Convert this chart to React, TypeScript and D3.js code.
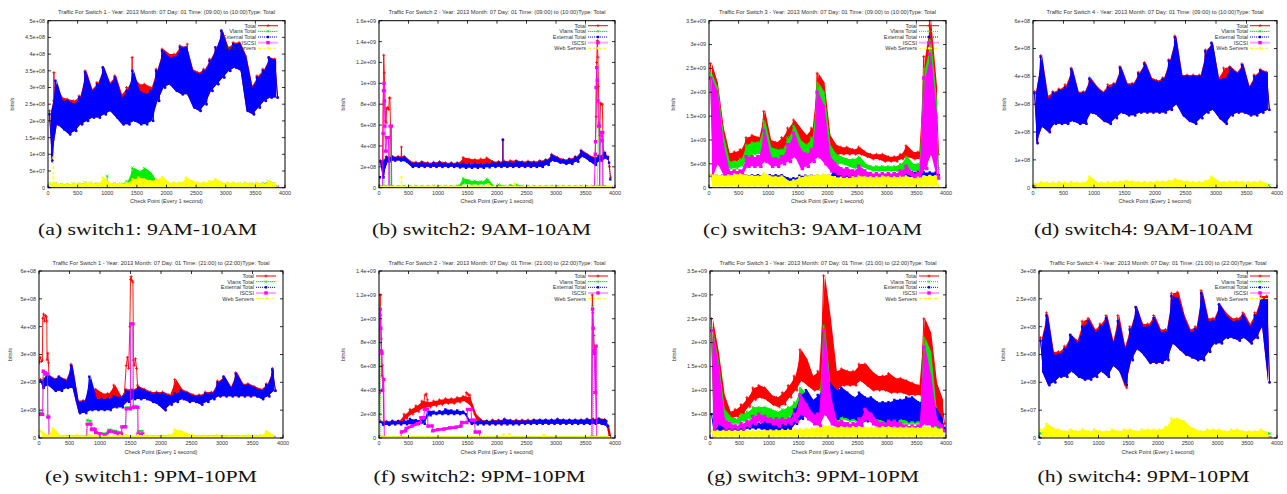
import React from "react";
import * as d3 from "d3";

type Pair = [number, number];
type Pt = [number, number];

// values are in units of 1e8 bits/s, x in seconds (check points)
const X_TICKS = [0, 500, 1000, 1500, 2000, 2500, 3000, 3500, 4000];
const X_MAX = 4000;
const BIN = 100;

const SERIES_NAMES = ["Total", "Vlans Total", "External Total", "ISCSI", "Web Servers"];
const SERIES_COLORS = ["#ff0000", "#00ee00", "#0000ff", "#ff00ff", "#ffff00"];

const AM_TIME = "(09:00) to (10:00)";
const PM_TIME = "(21:00) to (22:00)";

const Y_LABELS_A = ["0", "5e+07", "1e+08", "1.5e+08", "2e+08", "2.5e+08", "3e+08", "3.5e+08", "4e+08", "4.5e+08", "5e+08"];
const Y_LABELS_B = ["0", "2e+08", "4e+08", "6e+08", "8e+08", "1e+09", "1.2e+09", "1.4e+09", "1.6e+09"];
const Y_LABELS_C = ["0", "5e+08", "1e+09", "1.5e+09", "2e+09", "2.5e+09", "3e+09", "3.5e+09"];
const Y_LABELS_D = ["0", "1e+08", "2e+08", "3e+08", "4e+08", "5e+08", "6e+08"];
const Y_LABELS_F = ["0", "2e+08", "4e+08", "6e+08", "8e+08", "1e+09", "1.2e+09", "1.4e+09"];
const Y_LABELS_H = ["0", "5e+07", "1e+08", "1.5e+08", "2e+08", "2.5e+08", "3e+08"];

// ---- (a) switch1 9AM-10AM : [low, high] per 100 s ----
const aTotal: Pair[] = [[0.8,2.3],[1.9,3.0],[1.8,2.7],[1.6,2.65],[1.7,2.6],[1.9,2.75],[2.0,3.5],[2.1,2.95],[2.1,3.15],[2.2,3.6],[2.3,3.15],[2.1,3.35],[1.9,2.8],[1.9,3.0],[2.3,3.3],[2.4,3.1],[2.5,3.1],[2.4,3.0],[2.6,3.55],[3.0,4.15],[3.1,4.0],[2.9,4.0],[2.8,4.25],[2.8,4.2],[2.4,3.55],[2.3,3.45],[2.5,3.55],[2.9,3.85],[3.1,4.2],[3.3,4.7],[3.5,4.2],[3.6,4.35],[3.5,4.35],[2.3,3.95],[2.2,3.05],[2.4,3.35],[2.6,3.55],[2.7,3.9],[2.7,3.85]];
const aTotalSpikes: Pt[][] = [
  [[95,2.6],[100,3.45],[105,2.6]],
  [[1415,3.0],[1420,3.9],[1425,3.0]],
  [[2345,3.6],[2350,4.3],[2355,3.6]],
];
const aVlans: Pair[] = [[0.03,0.12],[0.03,0.12],[0.03,0.1],[0.03,0.1],[0.03,0.12],[0.03,0.12],[0.03,0.15],[0.03,0.14],[0.03,0.12],[0.03,0.14],[0.03,0.14],[0.03,0.12],[0.03,0.12],[0.05,0.2],[0.2,0.6],[0.2,0.5],[0.2,0.58],[0.15,0.45],[0.03,0.14],[0.03,0.14],[0.03,0.12],[0.03,0.12],[0.03,0.12],[0.03,0.14],[0.03,0.12],[0.03,0.12],[0.03,0.12],[0.03,0.12],[0.03,0.14],[0.03,0.12],[0.03,0.12],[0.03,0.12],[0.03,0.12],[0.03,0.12],[0.03,0.12],[0.03,0.12],[0.03,0.14],[0.05,0.2],[0.03,0.12]];
const aVlansSpike: Pt[] = [[990,0.1],[1000,0.35],[1010,0.1]];
const aExt: Pair[] = [[0.8,2.2],[1.9,3.2],[1.75,2.6],[1.6,2.6],[1.7,2.5],[1.9,2.7],[2.0,3.45],[2.1,2.9],[2.1,3.1],[2.2,3.6],[2.3,3.1],[2.1,3.3],[1.9,2.7],[1.9,2.9],[2.0,3.5],[1.9,2.9],[1.9,2.8],[2.0,2.9],[2.6,3.5],[3.0,4.1],[3.1,3.9],[2.9,3.9],[2.8,4.2],[2.8,4.2],[2.4,3.5],[2.3,3.4],[2.5,3.5],[2.9,3.8],[3.1,4.2],[3.3,4.7],[3.5,4.1],[3.6,4.3],[3.5,4.3],[2.3,3.9],[2.2,3.0],[2.4,3.3],[2.6,3.5],[2.7,3.9],[2.7,3.8]];
const aWeb: Pair[] = [[0,0.12],[0,0.12],[0,0.1],[0,0.1],[0,0.12],[0,0.12],[0,0.15],[0,0.15],[0,0.12],[0,0.3],[0,0.15],[0,0.12],[0,0.12],[0,0.15],[0,0.25],[0,0.3],[0,0.25],[0,0.2],[0,0.25],[0,0.32],[0,0.15],[0,0.15],[0,0.15],[0,0.3],[0,0.2],[0,0.15],[0,0.15],[0,0.2],[0,0.25],[0,0.15],[0,0.15],[0,0.15],[0,0.12],[0,0.15],[0,0.12],[0,0.15],[0,0.12],[0,0.2],[0,0.12]];
const aWebSpike: Pt[] = [[80,0.1],[90,0.9],[100,0.1]];
const aIscsi: Pt[] = [[0,0],[3870,0]];

// ---- (b) switch2 9AM-10AM ----
const bTotal: Pair[] = [[1.0,2.6],[2.5,3.0],[2.6,3.0],[2.6,3.0],[2.5,3.0],[2.0,2.5],[2.0,2.45],[2.0,2.5],[2.0,2.4],[2.0,2.45],[2.0,2.5],[2.0,2.4],[2.0,2.4],[1.95,2.4],[2.3,2.9],[2.3,2.75],[2.3,2.7],[2.3,2.75],[2.3,2.85],[2.0,2.5],[2.0,2.5],[2.0,2.55],[2.0,2.6],[2.0,2.6],[2.0,2.5],[2.0,2.55],[2.0,2.5],[2.0,2.6],[2.2,2.7],[2.6,3.2],[2.4,2.9],[2.3,2.7],[2.3,2.8],[2.5,3.0],[3.0,3.6],[2.6,3.2],[2.2,2.9],[2.6,3.1],[2.8,3.4]];
const bTotalSpikes: Pt[][] = [
  [[40,2.2],[60,2.6],[70,8.0],[80,12.7],[90,11.0],[100,9.3],[110,6.4],[120,6.2],[130,7.6],[150,7.7],[165,7.5],[175,8.6],[185,8.6],[195,5.9],[205,2.8]],
  [[375,2.9],[380,3.9],[385,2.9]],
  [[2095,2.4],[2100,4.6],[2105,2.4]],
  [[3660,2.5],[3680,6.8],[3690,12.0],[3700,14.1],[3710,12.5],[3720,9.7],[3730,6.2],[3740,5.0],[3755,8.1],[3770,8.0],[3785,8.0],[3795,5.3],[3810,2.8]],
  [[3880,3.0],[3905,2.0],[3925,1.0]],
];
const bVlans: Pair[] = [[0.05,0.15],[0.05,0.15],[0.05,0.15],[0.05,0.15],[0.05,0.15],[0.05,0.15],[0.05,0.15],[0.05,0.15],[0.05,0.15],[0.05,0.15],[0.05,0.15],[0.05,0.15],[0.05,0.15],[0.05,0.2],[0.4,0.9],[0.3,0.7],[0.3,0.65],[0.3,0.6],[0.4,0.85],[0.05,0.15],[0.05,0.3],[0.05,0.15],[0.05,0.25],[0.05,0.3],[0.05,0.15],[0.05,0.15],[0.05,0.15],[0.05,0.15],[0.05,0.15],[0.05,0.15],[0.05,0.15],[0.05,0.15],[0.05,0.15],[0.05,0.15],[0.05,0.15],[0.05,0.15],[0.05,0.15],[0.05,0.15],[0.05,0.15]];
const bVlansSpikes: Pt[][] = [
  [[70,0.1],[80,5.0],[90,0.1]],
  [[195,0.1],[205,5.8],[215,0.1]],
  [[3700,0.1],[3720,6.2],[3740,0.1]],
  [[3780,0.1],[3790,5.0],[3800,0.1]],
];
const bExt: Pair[] = [[1.0,2.5],[2.5,2.9],[2.6,2.95],[2.6,2.9],[2.5,2.9],[2.0,2.4],[2.0,2.35],[2.0,2.4],[2.0,2.3],[2.0,2.35],[2.0,2.4],[2.0,2.3],[2.0,2.3],[1.95,2.3],[1.9,2.3],[1.9,2.25],[1.9,2.3],[1.9,2.25],[1.95,2.3],[2.0,2.4],[2.0,2.4],[2.0,2.45],[2.0,2.4],[2.0,2.5],[2.0,2.4],[2.0,2.45],[2.0,2.4],[2.0,2.5],[2.2,2.6],[2.6,3.1],[2.4,2.8],[2.3,2.6],[2.3,2.7],[2.5,2.9],[3.0,3.5],[2.6,3.1],[2.2,2.8],[2.6,3.0],[2.8,3.3]];
const bExtSpikes: Pt[][] = [
  [[0,0.2],[15,1.0]],
  [[2095,2.3],[2100,4.6],[2105,2.3]],
  [[3880,2.9],[3900,2.4],[3920,0.8]],
];
const bIscsi: Pt[] = [[0,0],[60,0],[70,5.2],[78,9.3],[85,10.0],[92,8.3],[100,5.9],[110,3.5],[120,3.5],[130,4.8],[160,4.8],[170,0],[190,5.9],[210,5.9],[215,0],[3650,0],[3665,3.2],[3670,4.4],[3680,9.6],[3690,11.5],[3700,10.3],[3710,8.3],[3720,5.9],[3735,5.9],[3740,0],[3755,5.3],[3770,5.3],[3780,4.5],[3790,5.3],[3795,0],[3930,0]];
const bWeb: Pt[] = [[0,0.1],[370,0.1],[380,1.0],[390,0.1],[1840,0.1],[1850,0.35],[1860,0.1],[2290,0.1],[2300,0.4],[2310,0.1],[3930,0.1]];

// ---- (c) switch3 9AM-10AM ----
const cTotal: Pair[] = [[5,26],[8,22],[6,12.5],[5.5,7.2],[5.5,7.5],[6,8],[7.5,10.5],[8,11],[8,10.5],[9,16],[8,10],[7.5,9.5],[7.5,10.5],[9,12.5],[11,14.2],[8,12.5],[8.5,11],[9,12.5],[10,24],[9,22],[8,11],[7,9],[7,8.5],[7,8.5],[7,8],[7,8.5],[6.5,7.5],[6,7],[6,7],[5.5,7],[5.5,6.5],[5.5,6.5],[6,7],[6.5,8.8],[6,7.5],[6,7.5],[7,27.5],[10,35],[7,21]];
const cVlans: Pair[] = [[2,24],[6,21],[4,11],[4,5.5],[4,5.5],[4.5,6],[6,9],[7,9.5],[7,9.5],[7.5,14],[6,8.5],[6,8],[6,8],[7,10.5],[9,13],[6,10],[6.5,9],[7,10.5],[8,22],[7,20],[6,9],[5,7],[5,6.5],[4.5,6],[4,6],[4.5,6.5],[4,5],[3.5,4.5],[3.5,4.5],[3.5,4.5],[3.5,4.5],[3.5,4.5],[3.5,5],[4,6.5],[3.5,5],[3.5,5],[5,25],[8,31],[4,18]];
const cExt: Pair[] = [[1.5,2.5],[1.5,2.5],[1.5,2.5],[1.5,2.5],[1.5,2.5],[1.6,2.6],[1.6,2.6],[1.6,2.6],[1.6,2.6],[1.6,2.6],[1.6,2.6],[1.6,2.6],[1.6,2.6],[1.2,2.0],[1.2,2.0],[1.5,2.5],[1.5,2.5],[1.5,2.5],[1.5,2.5],[1.5,2.5],[1.5,2.5],[1.8,4.5],[2.0,2.8],[2.0,2.8],[2.0,2.8],[2.0,2.8],[2.0,2.8],[2.0,2.8],[2.0,2.8],[2.0,2.8],[2.0,2.8],[2.0,2.8],[2.0,2.8],[2.0,2.8],[2.4,3.3],[2.4,3.3],[2.6,3.2],[2.6,3.2],[2.6,3.2]];
const cIscsi: Pair[] = [[2,23],[5,20],[2.5,9],[2.5,3.5],[2.5,3.5],[2.5,3.5],[4.5,6.5],[4.5,6.5],[4.5,6.5],[5.5,12],[4.5,6.5],[4.5,6],[5,6.5],[5.5,9],[6.5,11.5],[4,8],[4.5,7],[5.5,8],[6.5,20],[5,17],[3.5,6.5],[3,5],[2.5,4],[2.5,4],[2.5,3.5],[2.5,4.5],[2.5,3.5],[2,3],[2,3],[2,3],[2,3],[2,3],[2.5,3.5],[3,4.5],[2,3],[2,3],[4,23],[7,28],[2,15]];
const cWeb: Pair[] = [[0.3,2.8],[0.3,2.6],[0.3,2.5],[0.3,2.6],[0.3,2.8],[0.3,2.8],[0.3,2.6],[0.3,2.5],[0.3,2.4],[0.3,3.0],[0.3,2.4],[0.3,2.3],[0.3,2.4],[0.3,1.4],[0.3,1.6],[0.3,2.2],[0.3,2.4],[0.3,2.5],[0.3,2.6],[0.3,2.8],[0.3,2.6],[0.3,2.2],[0.3,2.1],[0.3,2.0],[0.3,2.2],[0.3,2.4],[0.3,2.3],[0.3,2.2],[0.3,2.2],[0.3,2.4],[0.3,2.2],[0.3,2.2],[0.3,2.3],[0.3,2.4],[0.3,2.0],[0.3,2.1],[0.3,2.4],[0.3,2.5],[0.3,2.3]];

// ---- (d) switch4 9AM-10AM ----
const dTotal: Pair[] = [[1.6,3.45],[2.2,4.75],[2.0,3.3],[2.3,3.45],[2.3,3.55],[2.3,3.7],[2.4,4.3],[2.3,3.45],[2.3,3.45],[2.7,3.95],[2.6,3.65],[2.4,3.45],[2.3,3.7],[2.5,3.75],[2.7,4.35],[2.6,3.75],[2.6,3.75],[2.7,4.15],[2.7,4.5],[2.7,3.95],[2.7,3.85],[2.7,3.95],[2.8,4.6],[3.0,5.45],[2.6,4.05],[2.4,4.05],[2.3,4.05],[2.5,4.05],[2.7,4.95],[2.8,5.2],[2.5,3.95],[2.3,4.3],[2.6,4.35],[2.7,4.15],[2.7,4.45],[2.6,3.65],[2.6,4.05],[2.7,4.25],[2.8,4.15]];
const dVlans: Pt[] = [[0,0.08],[3870,0.08]];
const dExt: Pair[] = [[1.6,3.4],[2.2,4.7],[2.0,3.2],[2.3,3.4],[2.3,3.5],[2.3,3.6],[2.4,4.25],[2.3,3.4],[2.3,3.4],[2.7,3.9],[2.6,3.6],[2.4,3.4],[2.3,3.6],[2.5,3.7],[2.7,4.3],[2.6,3.7],[2.6,3.7],[2.7,4.1],[2.7,4.45],[2.7,3.9],[2.7,3.8],[2.7,3.9],[2.8,4.55],[3.0,5.4],[2.6,4.0],[2.4,4.0],[2.3,4.0],[2.5,4.0],[2.7,4.9],[2.8,5.2],[2.5,3.9],[2.3,3.9],[2.6,4.3],[2.7,4.1],[2.7,4.4],[2.6,3.6],[2.6,4.0],[2.7,4.2],[2.8,4.1]];
const dIscsi: Pt[] = [[0,0],[3870,0]];
const dWeb: Pair[] = [[0,0.15],[0,0.2],[0,0.18],[0,0.18],[0,0.2],[0,0.18],[0,0.2],[0,0.18],[0,0.18],[0,0.4],[0,0.2],[0,0.18],[0,0.2],[0,0.2],[0,0.22],[0,0.25],[0,0.22],[0,0.2],[0,0.2],[0,0.2],[0,0.22],[0,0.22],[0,0.25],[0,0.3],[0,0.25],[0,0.22],[0,0.2],[0,0.2],[0,0.25],[0,0.4],[0,0.22],[0,0.2],[0,0.22],[0,0.22],[0,0.2],[0,0.2],[0,0.2],[0,0.22],[0,0.15]];

// ---- (e) switch1 9PM-10PM ----
const eTotal: Pair[] = [[1.8,2.1],[1.9,2.3],[1.7,2.15],[1.7,2.2],[1.8,2.1],[1.8,2.65],[0.9,1.35],[0.95,1.35],[1.1,1.8],[1.4,1.75],[1.2,1.6],[1.3,1.6],[1.3,1.9],[1.2,1.5],[1.4,1.75],[1.4,1.75],[1.4,1.85],[1.4,1.75],[1.3,1.65],[1.2,1.65],[1.0,1.65],[1.2,1.55],[1.3,2.1],[1.4,1.75],[1.3,1.65],[1.3,1.55],[1.2,1.55],[1.3,1.65],[1.4,1.65],[1.5,2.05],[1.5,2.2],[1.5,1.85],[1.5,2.35],[1.5,1.95],[1.5,1.95],[1.5,1.85],[1.4,1.75],[1.5,1.95],[1.7,2.5]];
const eTotalSpikes: Pt[][] = [
  [[0,2.7],[20,2.9],[40,2.75],[55,2.8],[62,4.3],[75,4.45],[90,4.2],[105,4.4],[120,4.35],[128,4.2],[132,2.8],[145,3.05],[155,2.7],[165,2.0]],
  [[1400,1.6],[1430,2.6],[1450,2.9],[1470,2.5],[1490,4.0],[1500,5.7],[1510,5.8],[1525,5.65],[1540,5.6],[1548,2.8],[1560,2.6],[1580,2.85],[1600,2.5],[1615,1.9]],
];
const eVlans: Pt[] = [[0,0.9],[55,0.9],[60,1.0],[68,2.4],[140,2.3],[145,0.8],[160,0.8],[165,0.05],[780,0.05],[790,0.65],[850,0.6],[860,0.35],[920,0.35],[930,0.2],[1100,0.15],[1150,0.3],[1250,0.25],[1350,0.2],[1360,0.4],[1420,0.4],[1430,1.1],[1500,1.1],[1505,4.1],[1540,4.1],[1545,1.15],[1610,1.15],[1620,0.25],[1700,0.25],[1710,0.05],[3850,0.05]];
const eExt: Pair[] = [[1.8,2.05],[1.9,2.3],[1.7,2.1],[1.7,2.2],[1.8,2.05],[1.8,2.6],[0.9,1.3],[0.9,1.3],[1.0,2.2],[1.0,1.4],[1.0,1.4],[1.0,1.4],[1.1,1.5],[1.1,1.45],[1.3,1.7],[1.4,1.7],[1.4,1.8],[1.4,1.7],[1.3,1.6],[1.2,1.6],[1.0,1.6],[1.2,1.5],[1.3,1.6],[1.4,1.7],[1.3,1.6],[1.3,1.5],[1.2,1.5],[1.3,1.6],[1.4,1.6],[1.5,2.0],[1.5,2.2],[1.5,1.8],[1.5,2.3],[1.5,1.9],[1.5,1.9],[1.5,1.8],[1.4,1.7],[1.5,1.9],[1.7,2.45]];
const eIscsi: Pt[] = [[0,0.85],[60,0.85],[70,2.4],[100,2.35],[110,2.3],[140,2.3],[145,0.75],[160,0.75],[165,0],[780,0],[790,0.5],[850,0.5],[860,0.3],[920,0.3],[930,0.2],[1000,0.15],[1100,0.1],[1150,0.25],[1250,0.2],[1300,0.15],[1350,0.15],[1360,0.4],[1420,0.4],[1430,1.05],[1500,1.05],[1505,4.1],[1540,4.1],[1545,1.1],[1620,1.1],[1625,0.15],[1700,0.15],[1710,0],[3850,0]];
const eWeb: Pair[] = [[0,0.25],[0,0.1],[0,0.35],[0,0.1],[0,0.08],[0,0.08],[0,0.1],[0,0.08],[0,0.1],[0,0.1],[0,0.08],[0,0.08],[0,0.08],[0,0.1],[0,0.1],[0,0.08],[0,0.1],[0,0.1],[0,0.08],[0,0.08],[0,0.08],[0,0.1],[0,0.3],[0,0.25],[0,0.15],[0,0.1],[0,0.08],[0,0.08],[0,0.08],[0,0.1],[0,0.08],[0,0.08],[0,0.08],[0,0.08],[0,0.1],[0,0.08],[0,0.1],[0,0.25],[0,0.1]];

// ---- (f) switch2 9PM-10PM ----
const fTotal: Pair[] = [[1.1,1.4],[1.1,1.4],[1.15,1.45],[1.15,1.45],[1.6,2.0],[2.0,2.4],[2.2,2.7],[2.5,3.1],[2.6,3.0],[2.7,3.1],[2.8,3.2],[2.9,3.3],[2.9,3.3],[3.0,3.4],[3.1,3.5],[2.7,3.4],[1.5,2.0],[1.15,1.5],[1.15,1.45],[1.15,1.5],[1.15,1.5],[1.15,1.6],[1.15,1.5],[1.15,1.5],[1.2,1.5],[1.2,1.5],[1.2,1.55],[1.2,1.55],[1.2,1.55],[1.2,1.55],[1.2,1.6],[1.2,1.55],[1.2,1.55],[1.2,1.55],[1.2,1.55],[1.2,1.6],[1.2,1.6],[1.2,1.65],[1.0,1.55]];
const fTotalSpikes: Pt[][] = [
  [[0,1.3],[10,10.4],[20,12.0],[30,10.3],[40,8.3],[50,5.2],[60,6.1],[70,5.0],[80,1.4]],
  [[760,3.0],[780,3.6],[800,3.7],[820,3.2]],
  [[1470,3.4],[1480,3.8],[1500,3.7],[1520,3.6],[1540,3.6],[1560,2.8]],
  [[3600,1.4],[3615,12.0],[3625,10.5],[3640,8.6],[3655,7.0],[3665,7.7],[3680,1.5]],
  [[3850,1.4],[3880,1.0],[3915,0.1]],
];
const fVlans: Pt[][] = [
  [[0,0.06],[3900,0.06]],
  [[0,0.1],[15,11.0],[30,0.1]],
  [[3605,0.1],[3620,11.0],[3640,0.1]],
];
const fExt: Pair[] = [[1.1,1.35],[1.1,1.35],[1.15,1.4],[1.15,1.4],[1.15,1.45],[1.15,1.6],[1.2,1.5],[1.2,1.5],[1.9,2.3],[2.0,2.2],[2.0,2.25],[2.0,2.4],[2.0,2.3],[2.0,2.3],[2.0,2.2],[1.2,1.45],[1.15,1.45],[1.15,1.45],[1.15,1.4],[1.15,1.45],[1.15,1.45],[1.15,1.55],[1.15,1.45],[1.15,1.45],[1.2,1.45],[1.2,1.45],[1.2,1.5],[1.2,1.5],[1.2,1.5],[1.2,1.5],[1.2,1.55],[1.2,1.5],[1.2,1.5],[1.2,1.5],[1.2,1.5],[1.2,1.55],[1.2,1.55],[1.2,1.6],[1.0,1.5]];
const fExtDrop: Pt[] = [[3850,1.4],[3880,1.0],[3910,0.1]];
const fIscsi: Pt[] = [[0,3.8],[20,10.8],[30,9.2],[40,7.3],[50,7.1],[60,4.0],[80,4.9],[90,0],[370,0],[380,0.5],[450,0.6],[460,0.8],[560,1.0],[650,1.2],[700,1.3],[710,1.7],[760,1.7],[770,2.4],[820,2.4],[830,1.0],[900,1.0],[910,0.6],[1000,0.7],[1100,0.75],[1200,0.85],[1300,0.9],[1390,1.0],[1400,1.3],[1490,1.3],[1500,2.4],[1560,2.4],[1570,1.5],[1620,1.5],[1630,0.5],[1700,0.5],[1710,0],[3610,0],[3620,10.8],[3630,9.2],[3640,7.3],[3650,7.1],[3660,3.8],[3670,3.8],[3680,7.7],[3690,0],[3900,0]];
const fWeb: Pt[] = [[0,0.08],[2100,0.08],[2110,0.3],[2120,0.08],[2200,0.08],[2210,0.35],[2220,0.08],[2780,0.08],[2790,0.25],[2800,0.08],[3900,0.08]];

// ---- (g) switch3 9PM-10PM ----
const gTotal: Pair[] = [[3,25],[8,18],[5,9],[4,5.5],[4.5,6],[5,7],[6.5,8.5],[8,10.5],[8.5,11],[8,10.5],[7,9],[6.5,8.5],[7,9.5],[8.5,11],[10,13],[12,18.5],[11,16.5],[10,13],[10,14],[13,34],[10,25],[10,14],[11,14.5],[11,14],[11,14],[12,15.5],[11,15.5],[10,14],[10,13],[10,13],[9.5,13.5],[9.5,12.5],[9.5,12.5],[9,12],[9,11.5],[9,11],[9,25],[8,22],[6,11.5],[3,8]];
const gVlans: Pair[] = [[1,23],[4,16],[3.5,6],[3,4.5],[3,4],[3.5,5],[4,5.5],[4.5,6.5],[5,6.5],[4.5,6.5],[4,6],[4,5.5],[4,6],[4.5,6.5],[5,7.5],[6,10.5],[5.5,9],[4.5,7],[4.5,7.5],[7,23.5],[4.5,10],[3.5,6],[4,6],[3.5,5.5],[3.5,5],[4,6.5],[4,6],[3.5,5],[3,4.5],[3,4.5],[3,4.5],[3,4.5],[3,5],[3,4.5],[3,4.5],[3,4.5],[3.5,21],[3,18],[2,5],[1.5,3]];
const gExt: Pair[] = [[1,5],[1.5,4],[1.5,3],[1.5,2.5],[1.5,2.5],[1.5,2.5],[2,3],[2,3],[2,3],[1.5,3.5],[1.5,3.5],[1.5,4],[1.5,4],[1.5,4],[3,6],[4,9],[5,10],[4,8],[4,9],[5,11],[5,11.5],[4,10],[4.5,10.5],[4,9.5],[4,8.5],[3,9.5],[3.5,8.5],[3.5,8.5],[4,7.5],[3.5,7.5],[3,7.5],[3.5,8],[4,8],[3.5,8.5],[3.5,8.5],[3.5,7.5],[4,8],[4,7.5],[3,6],[2,4]];
const gIscsi: Pair[] = [[0.5,22.5],[3,15],[2,4],[2,3],[2,2.5],[2,3],[2.5,3.5],[3,4.5],[3.5,5],[3.5,4.5],[3,4],[2.5,4],[3,4],[3,4],[3.5,5],[5,9],[4,7],[3,5],[2.5,5],[5,22.5],[3,9],[2,3.5],[2,3.5],[2,3],[2,3],[2.5,4],[4,6],[3,5],[2,3.5],[2,3],[2,3.5],[2,3.5],[2,3],[1.5,2.5],[1.5,2.5],[2,2.5],[3,19],[2.5,13],[2.5,4],[1.5,2.5]];
const gWeb: Pair[] = [[0.3,1.5],[0.3,1.5],[0.3,1.5],[0.3,1.5],[0.3,1.5],[0.3,1.5],[0.3,1.5],[0.3,1.5],[0.3,1.5],[0.3,1.6],[0.3,1.6],[0.3,1.6],[0.3,1.7],[0.3,1.7],[0.3,1.8],[0.3,1.8],[0.3,1.9],[0.3,2.0],[0.3,2.2],[0.3,2.5],[0.3,2.4],[0.3,2.2],[0.3,2.3],[0.3,2.2],[0.3,2.3],[0.3,2.3],[0.3,2.2],[0.3,2.2],[0.3,2.2],[0.3,2.3],[0.3,2.3],[0.3,2.2],[0.3,2.2],[0.3,2.2],[0.3,2.2],[0.3,2.1],[0.3,2.4],[0.3,2.2],[0.3,2.0],[0.3,1.8]];

// ---- (h) switch4 9PM-10PM ----
const hTotal: Pair[] = [[1.2,1.8],[0.95,2.25],[1.0,1.55],[1.1,1.55],[1.1,1.65],[1.2,1.85],[1.1,1.75],[1.05,2.1],[1.05,2.15],[1.1,1.95],[1.2,2.05],[1.1,2.2],[1.3,1.75],[1.2,2.2],[0.9,1.65],[1.4,2.0],[1.6,2.35],[1.5,2.05],[1.35,2.05],[1.35,2.2],[1.35,1.95],[1.4,1.95],[1.7,2.6],[1.6,2.62],[1.5,2.2],[1.45,1.95],[1.4,2.0],[1.4,2.65],[1.55,2.15],[1.7,2.15],[1.7,2.4],[1.8,2.25],[1.8,2.15],[1.75,2.15],[1.8,2.25],[1.7,2.05],[1.8,2.25],[2.0,2.55],[1.0,2.55]];
const hVlans: Pt[] = [[0,0.08],[3880,0.08]];
const hExt: Pair[] = [[1.2,1.75],[0.95,2.2],[1.0,1.5],[1.1,1.5],[1.1,1.6],[1.2,1.85],[1.1,1.7],[1.05,2.0],[1.05,2.1],[1.1,1.9],[1.2,2.0],[1.1,2.15],[1.3,1.7],[1.2,2.1],[0.95,1.6],[1.4,1.95],[1.6,2.35],[1.5,2.0],[1.35,2.0],[1.35,2.15],[1.35,1.9],[1.4,1.9],[1.7,2.55],[1.6,2.5],[1.5,2.15],[1.45,1.9],[1.4,1.95],[1.4,2.6],[1.55,2.1],[1.7,2.1],[1.7,2.4],[1.8,2.2],[1.8,2.1],[1.75,2.1],[1.8,2.2],[1.7,2.0],[1.8,2.2],[2.0,2.5],[1.0,2.5]];
const hIscsi: Pt[] = [[0,0],[3880,0]];
const hWeb: Pair[] = [[0,0.15],[0,0.25],[0,0.18],[0,0.15],[0,0.12],[0,0.15],[0,0.12],[0,0.15],[0,0.12],[0,0.15],[0,0.12],[0,0.12],[0,0.15],[0,0.12],[0,0.15],[0,0.15],[0,0.12],[0,0.15],[0,0.15],[0,0.15],[0,0.15],[0,0.2],[0,0.35],[0,0.35],[0,0.3],[0,0.2],[0,0.15],[0,0.12],[0,0.15],[0,0.15],[0,0.15],[0,0.12],[0,0.15],[0,0.15],[0,0.12],[0,0.12],[0,0.12],[0,0.15],[0,0.1]];

interface PanelData {
  sw: number;
  time: string;
  caption: string;
  yMax: number;
  yLabels: string[];
  bands: (Pair[] | null)[];
  traces: Pt[][][];
}

const PANELS: PanelData[] = [
  { sw: 1, time: AM_TIME, caption: "(a) switch1: 9AM-10AM", yMax: 5, yLabels: Y_LABELS_A,
    bands: [aTotal, aVlans, aExt, null, aWeb], traces: [aTotalSpikes, [aVlansSpike], [], [aIscsi], [aWebSpike]] },
  { sw: 2, time: AM_TIME, caption: "(b) switch2: 9AM-10AM", yMax: 16, yLabels: Y_LABELS_B,
    bands: [bTotal, bVlans, bExt, null, null], traces: [bTotalSpikes, bVlansSpikes, bExtSpikes, [bIscsi], [bWeb]] },
  { sw: 3, time: AM_TIME, caption: "(c) switch3: 9AM-10AM", yMax: 35, yLabels: Y_LABELS_C,
    bands: [cTotal, cVlans, cExt, cIscsi, cWeb], traces: [[], [], [], [], []] },
  { sw: 4, time: AM_TIME, caption: "(d) switch4: 9AM-10AM", yMax: 6, yLabels: Y_LABELS_D,
    bands: [dTotal, null, dExt, null, dWeb], traces: [[], [dVlans], [], [dIscsi], []] },
  { sw: 1, time: PM_TIME, caption: "(e) switch1: 9PM-10PM", yMax: 6, yLabels: Y_LABELS_D,
    bands: [eTotal, null, eExt, null, eWeb], traces: [eTotalSpikes, [eVlans], [], [eIscsi], []] },
  { sw: 2, time: PM_TIME, caption: "(f) switch2: 9PM-10PM", yMax: 14, yLabels: Y_LABELS_F,
    bands: [fTotal, null, fExt, null, null], traces: [fTotalSpikes, fVlans, [fExtDrop], [fIscsi], [fWeb]] },
  { sw: 3, time: PM_TIME, caption: "(g) switch3: 9PM-10PM", yMax: 35, yLabels: Y_LABELS_C,
    bands: [gTotal, gVlans, gExt, gIscsi, gWeb], traces: [[], [], [], [], []] },
  { sw: 4, time: PM_TIME, caption: "(h) switch4: 9PM-10PM", yMax: 3, yLabels: Y_LABELS_H,
    bands: [hTotal, null, hExt, null, hWeb], traces: [[], [hVlans], [], [hIscsi], []] },
];

// plot boxes in page pixels
const BOXES = [
  { l: 48, r: 285, t: 20.7, b: 187.7, cx: 147.5, capY: 235, capW: 219 },
  { l: 379, r: 615, t: 20.7, b: 187.7, cx: 481.5, capY: 235, capW: 219 },
  { l: 709, r: 946, t: 20.7, b: 187.7, cx: 812.5, capY: 235, capW: 219 },
  { l: 1033, r: 1277, t: 20.7, b: 187.7, cx: 1143.5, capY: 235, capW: 219 },
  { l: 39, r: 283, t: 271, b: 438, cx: 151, capY: 482, capW: 212 },
  { l: 379, r: 615, t: 271, b: 438, cx: 479.5, capY: 482, capW: 212 },
  { l: 710, r: 946, t: 271, b: 438, cx: 813, capY: 482, capW: 212 },
  { l: 1039, r: 1277, t: 271, b: 438, cx: 1143.5, capY: 482, capW: 212 },
];

const STYLES = [
  { marker: "plus", size: 3, dash: undefined as string | undefined },
  { marker: "cross", size: 2.6, dash: "1,1" },
  { marker: "square", size: 2.4, dash: "1,1" },
  { marker: "square", size: 3.4, dash: undefined },
  { marker: "square", size: 2.2, dash: "3,2" },
];

const SMALL_FONT = "'Liberation Sans', Arial, sans-serif";
const TEXT_COLOR = "#333";

function markerPath(kind: string, pts: [number, number][], size: number): string {
  const h = size / 2;
  return pts
    .map(([cx, cy]) => {
      if (kind === "plus") return `M${cx - h},${cy}H${cx + h}M${cx},${cy - h}V${cy + h}`;
      if (kind === "cross") return `M${cx - h},${cy - h}L${cx + h},${cy + h}M${cx - h},${cy + h}L${cx + h},${cy - h}`;
      return `M${cx - h},${cy - h}h${size}v${size}h${-size}z`;
    })
    .join("");
}

function Markers({ kind, pts, size, color }: { kind: string; pts: [number, number][]; size: number; color: string }) {
  const d = markerPath(kind, pts, size);
  if (kind === "square") return <path d={d} fill={color} />;
  return <path d={d} fill="none" stroke={color} strokeWidth={0.8} />;
}

function Panel({ p, box, idx }: { p: PanelData; box: (typeof BOXES)[number]; idx: number }) {
  const x = d3.scaleLinear().domain([0, X_MAX]).range([box.l, box.r]);
  const y = d3.scaleLinear().domain([0, p.yMax]).range([box.b, box.t]);
  const yTicks = p.yLabels.map((_, i) => (i * p.yMax) / (p.yLabels.length - 1));
  const line = d3.line<Pt>().x((d) => x(d[0])).y((d) => y(d[1]));
  type C = { t: number; lo: number; hi: number };
  const area = d3.area<C>().x((d) => x(d.t)).y0((d) => y(d.lo)).y1((d) => y(d.hi));
  const clipId = `clip-${idx}`;
  const maxChars = d3.max(p.yLabels, (s) => s.length) ?? 5;
  const yTitleX = box.l - (11.5 + 3.5 * maxChars);
  const midY = (box.t + box.b) / 2;
  const midX = (box.l + box.r) / 2;
  const title = `Traffic For Switch ${p.sw} - Year: 2013 Month: 07 Day: 01 Time: ${p.time}Type: Total`;

  return (
    <g>
      <defs>
        <clipPath id={clipId}>
          <rect x={box.l} y={box.t - 1} width={box.r - box.l} height={box.b - box.t + 1} />
        </clipPath>
      </defs>
      <g clipPath={`url(#${clipId})`}>
        {SERIES_NAMES.map((name, s) => {
          const color = SERIES_COLORS[s];
          const st = STYLES[s];
          const band = p.bands[s];
          const traces = p.traces[s];
          let bandEls: React.ReactNode = null;
          if (band) {
            const centers: C[] = band.map(([lo, hi], i) => ({ t: i * BIN + BIN / 2, lo, hi }));
            const zig: Pt[] = band.flatMap(([lo, hi], i) => [
              [i * BIN + BIN * 0.25, hi] as Pt,
              [i * BIN + BIN * 0.75, lo] as Pt,
            ]);
            const zpx = zig.map((d) => [x(d[0]), y(d[1])] as [number, number]);
            bandEls = (
              <g>
                <path d={area(centers) ?? ""} fill={color} />
                <path d={line(zig) ?? ""} fill="none" stroke={color} strokeWidth={1} />
                <Markers kind={st.marker} pts={zpx} size={st.size} color={color} />
              </g>
            );
          }
          return (
            <g key={name}>
              {bandEls}
              {traces.map((tr, k) => {
                const px = tr.map((d) => [x(d[0]), y(d[1])] as [number, number]);
                // runs of readings that stay level: gnuplot's dense markers make them look like bars
                const level = d3.pairs(px).filter(([a, b], i) => b[0] - a[0] > 2 && tr[i][1] > 0 && tr[i + 1][1] > 0);
                return (
                  <g key={k}>
                    <path d={line(tr) ?? ""} fill="none" stroke={color} strokeWidth={0.9} strokeDasharray={st.dash} />
                    {level.map(([a, b], j) => (
                      <line key={j} x1={a[0]} y1={a[1]} x2={b[0]} y2={b[1]} stroke={color} strokeWidth={st.size * 0.8} />
                    ))}
                    <Markers kind={st.marker} pts={px} size={st.size} color={color} />
                  </g>
                );
              })}
            </g>
          );
        })}
      </g>

      {/* border and inward ticks */}
      <rect x={box.l} y={box.t} width={box.r - box.l} height={box.b - box.t} fill="none" stroke="#000" strokeWidth={1} />
      {yTicks.map((v, i) => (
        <g key={`y${i}`}>
          <line x1={box.l} x2={box.l + 3} y1={y(v)} y2={y(v)} stroke="#000" strokeWidth={0.8} />
          <line x1={box.r - 3} x2={box.r} y1={y(v)} y2={y(v)} stroke="#000" strokeWidth={0.8} />
          <text x={box.l - 3} y={y(v)} dy="0.35em" textAnchor="end" fontSize={5.5} fontFamily={SMALL_FONT} fill={TEXT_COLOR}>
            {p.yLabels[i]}
          </text>
        </g>
      ))}
      {X_TICKS.map((v) => (
        <g key={`x${v}`}>
          <line x1={x(v)} x2={x(v)} y1={box.b} y2={box.b - 3} stroke="#000" strokeWidth={0.8} />
          <line x1={x(v)} x2={x(v)} y1={box.t} y2={box.t + 3} stroke="#000" strokeWidth={0.8} />
          <text x={x(v)} y={box.b + 7} textAnchor="middle" fontSize={5.5} fontFamily={SMALL_FONT} fill={TEXT_COLOR}>
            {v}
          </text>
        </g>
      ))}

      <text x={midX} y={box.t - 6.5} textAnchor="middle" fontSize={5.2} fontFamily={SMALL_FONT} fill={TEXT_COLOR}
        textLength={217} lengthAdjust="spacingAndGlyphs">
        {title}
      </text>
      <text x={midX} y={box.b + 15.5} textAnchor="middle" fontSize={5.5} fontFamily={SMALL_FONT} fill={TEXT_COLOR}>
        Check Point (Every 1 second)
      </text>
      <text transform={`translate(${yTitleX},${midY}) rotate(-90)`} dy="0.35em" textAnchor="middle" fontSize={5.5}
        fontFamily={SMALL_FONT} fill={TEXT_COLOR}>
        bits/s
      </text>

      {/* legend */}
      {SERIES_NAMES.map((name, s) => {
        const ly = box.t + 5 + s * 5.65;
        const st = STYLES[s];
        const x1 = box.r - 27;
        const x2 = box.r - 7;
        return (
          <g key={`lg${s}`}>
            <text x={box.r - 29} y={ly} dy="0.35em" textAnchor="end" fontSize={5.5} fontFamily={SMALL_FONT} fill={TEXT_COLOR}>
              {name}
            </text>
            <line x1={x1} x2={x2} y1={ly} y2={ly} stroke={SERIES_COLORS[s]} strokeWidth={s === 3 ? 2 : 1}
              strokeOpacity={s === 3 ? 0.35 : 1} strokeDasharray={st.dash} />
            <Markers kind={st.marker} pts={[[(x1 + x2) / 2, ly]]} size={st.size} color={SERIES_COLORS[s]} />
          </g>
        );
      })}

      <text x={box.cx} y={box.capY} textAnchor="middle" fontSize={17} fontFamily="'Liberation Serif', 'Times New Roman', serif"
        fill="#111" textLength={box.capW} lengthAdjust="spacingAndGlyphs">
        {p.caption}
      </text>
    </g>
  );
}

export default function App() {
  return (
    <svg width={1287} height={494} style={{ position: "absolute", left: 0, top: 0, background: "#fff" }}>
      <rect width={1287} height={494} fill="#fff" />
      {PANELS.map((p, i) => (
        <Panel key={i} p={p} box={BOXES[i]} idx={i} />
      ))}
    </svg>
  );
}
